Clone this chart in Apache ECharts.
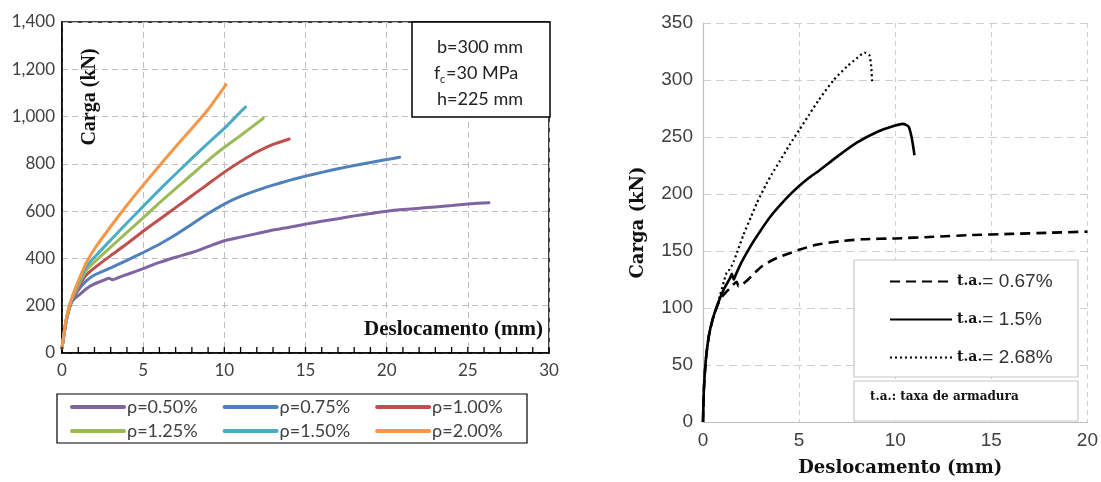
<!DOCTYPE html>
<html lang="pt">
<head>
<meta charset="UTF-8">
<title>Carga x Deslocamento</title>
<script src="https://cdn.jsdelivr.net/npm/echarts@6/dist/echarts.min.js"></script>
<style>
    html, body { margin: 0; padding: 0; background: #fff; }
    #main { width: 1101px; height: 482px; }
</style>
</head>
<body>
<div id="main"></div>
<script>
// ---- left chart: curves for each reinforcement ratio [deslocamento mm, carga kN]
var rhoNames = ['ρ=0.50%', 'ρ=0.75%', 'ρ=1.00%', 'ρ=1.25%', 'ρ=1.50%', 'ρ=2.00%'];
var rho050 = [[0,20],[0.2,110],[0.4,175],[0.6,215],[0.8,232],[1.1,248],[1.5,272],[2,292],[2.5,306],[2.9,316],[3.1,310],[3.5,320],[4,332],[5,357],[6,383],[7,405],[8,425],[9,450],[10,475],[11,490],[12,505],[13,520],[14,532],[15,545],[16,557],[17,568],[18,580],[19,590],[20,600],[21,607],[22,612],[23,618],[24,624],[25,630],[26.3,636]];
var rho075 = [[0,20],[0.2,112],[0.4,178],[0.6,220],[0.8,245],[1.1,275],[1.5,305],[2,330],[3,360],[4,392],[5,425],[6,460],[7,500],[8,545],[9,590],[10,630],[11,662],[12,688],[13,710],[14,730],[15,748],[16,764],[17,779],[18,793],[19,806],[20,818],[20.8,828]];
var rho100 = [[0,20],[0.2,114],[0.4,180],[0.6,222],[0.8,250],[1.1,290],[1.5,330],[2,360],[3,412],[4,462],[5,515],[6,565],[7,615],[8,665],[9,715],[10,765],[11,810],[12,850],[13,882],[14,905]];
var rho125 = [[0,20],[0.2,116],[0.4,182],[0.6,225],[0.8,255],[1.1,300],[1.5,350],[2,385],[3,448],[4,510],[5,572],[6,635],[7,695],[8,755],[9,815],[10,870],[11,920],[12,972],[12.4,993]];
var rho150 = [[0,20],[0.2,118],[0.4,184],[0.6,228],[0.8,262],[1.1,310],[1.5,365],[2,405],[3,478],[4,550],[5,620],[6,690],[7,757],[8,823],[9,888],[10,950],[11,1020],[11.3,1040]];
var rho200 = [[0,20],[0.2,120],[0.4,188],[0.6,232],[0.8,270],[1.1,320],[1.5,382],[2,440],[3,535],[4,625],[5,710],[6,792],[7,872],[8,950],[9,1030],[10.1,1135]];
var leftXTicks = [0, 30, 5];      // min, max, interval
var leftXMinor = 1;               // small inward tick marks every 1 mm
var leftYTicks = [0, 1400, 200];

// ---- right chart: taxa de armadura
var taNames = ['t.a. = 0.67%', 't.a. = 1.5%', 't.a. = 2.68%'];
var taLabels = ['= 0.67%', '= 1.5%', '= 2.68%'];
var ta067 = [[0,0],[0.05,30],[0.15,55],[0.3,75],[0.5,90],[0.7,100],[0.85,106],[1.0,110],[1.2,114],[1.45,118],[1.6,121],[1.75,123],[1.85,119],[2.0,120],[2.35,125],[2.7,131],[3.1,137],[3.5,141],[4,145],[4.5,148],[5,151],[5.9,155.5],[7.1,158.5],[8.3,160.3],[10,161],[12,162.5],[14,164],[16,165],[18,166],[20,167]];
var ta150 = [[0,0],[0.05,30],[0.15,55],[0.3,75],[0.5,90],[0.8,105],[1.1,117],[1.4,126],[1.5,130],[1.6,125],[1.7,129],[2,140],[2.5,155],[3,168],[3.5,180],[4,190],[4.5,199],[5,207],[5.5,214],[6,220],[7,233],[8,245],[9,254],[10,260],[10.4,261.5],[10.7,259],[10.85,250],[10.95,240],[11,234]];
var ta268 = [[0,0],[0.05,30],[0.15,55],[0.3,75],[0.5,90],[0.7,100],[0.9,112],[1.1,124],[1.25,132],[1.4,134],[1.6,141],[1.8,150],[2.1,164],[2.5,180],[2.8,192],[3.3,209],[3.6,218],[4,229],[4.5,243],[5,256],[5.5,269],[6,282],[6.8,300],[7.5,312],[8,319],[8.4,324],[8.65,322],[8.75,312],[8.8,297]];
var rightXTicks = [0, 20, 5];
var rightYTicks = [0, 350, 50];

var rhoData = [rho050, rho075, rho100, rho125, rho150, rho200];
var rhoColors = ['#8064A2', '#4F81BD', '#C0504D', '#9BBB59', '#4BACC6', '#F79646'];
var taData = [ta067, ta150, ta268];
var taDash = [[10, 6], 'solid', [2, 3]];

// plot areas
var leftGrid = { left: 62, top: 22, width: 487, height: 331 };
var rightGrid = { left: 703, top: 23, width: 385, height: 405 };

var myChart = echarts.init(document.getElementById('main'));

var sansL = 'Lato, "Open Sans", sans-serif';
var sansR = '"Liberation Sans Narrow", "Liberation Sans", Arial, sans-serif';
var serifL = '"Liberation Serif", "Times New Roman", serif';
var serifR = '"DejaVu Serif", "Liberation Serif", serif';

var series = [];
rhoData.forEach(function (d, i) {
    series.push({
        name: rhoNames[i], type: 'line', xAxisIndex: 0, yAxisIndex: 0,
        data: d, symbol: 'none', smooth: 0.2,
        lineStyle: { color: rhoColors[i], width: 3, cap: 'round' },
        itemStyle: { color: rhoColors[i] }
    });
});
taData.forEach(function (d, i) {
    series.push({
        name: taNames[i], type: 'line', xAxisIndex: 1, yAxisIndex: 1,
        data: d, symbol: 'none', smooth: 0.2,
        lineStyle: { color: '#000', width: i == 2 ? 2.2 : 2.6, type: taDash[i] },
        itemStyle: { color: '#000' }
    });
});

// legend: only the line, no marker in the middle
var noMarker = { opacity: 0, borderWidth: 0 };

var graphics = [
    // annotation box, left chart
    { type: 'rect', z: 10, shape: { x: 412, y: 22, width: 138, height: 95 },
      style: { fill: '#fff', stroke: '#000', lineWidth: 1.5 } },
    { type: 'text', z: 11, x: 480, y: 47,
      style: { text: 'b=300 mm', font: '18px ' + sansL, fill: '#222', align: 'center', verticalAlign: 'middle' } },
    { type: 'text', z: 11, x: 434, y: 73,
      style: { text: 'f', font: '18px ' + sansL, fill: '#222', verticalAlign: 'middle' } },
    { type: 'text', z: 11, x: 440, y: 79,
      style: { text: 'c', font: '11px ' + sansL, fill: '#222', verticalAlign: 'middle' } },
    { type: 'text', z: 11, x: 446, y: 73,
      style: { text: '=30 MPa', font: '18px ' + sansL, fill: '#222', verticalAlign: 'middle' } },
    { type: 'text', z: 11, x: 480, y: 99,
      style: { text: 'h=225 mm', font: '18px ' + sansL, fill: '#222', align: 'center', verticalAlign: 'middle' } },
    // axis names inside left plot
    { type: 'text', z: 11, x: 90, y: 97, rotation: Math.PI / 2,
      style: { text: 'Carga (kN)', font: 'bold 20px ' + serifL, fill: '#111', align: 'center', verticalAlign: 'middle' } },
    { type: 'text', z: 11, x: 543, y: 330,
      style: { text: 'Deslocamento (mm)', font: 'bold 21px ' + serifL, fill: '#111', align: 'right', verticalAlign: 'middle' } },
    // left legend frame
    { type: 'rect', z: 10, shape: { x: 57, y: 394, width: 470, height: 49 },
      style: { fill: 'none', stroke: '#000', lineWidth: 1.2 } },
    // right legend frames
    { type: 'rect', z: 10, shape: { x: 854, y: 260, width: 224, height: 117 },
      style: { fill: '#fff', stroke: '#c8c8c8', lineWidth: 1.2 } },
    { type: 'rect', z: 10, shape: { x: 854, y: 381, width: 224, height: 40 },
      style: { fill: '#fff', stroke: '#c8c8c8', lineWidth: 1.2 } },
    { type: 'text', z: 11, x: 870, y: 397,
      style: { text: 't.a.: taxa de armadura', font: 'bold 12px ' + serifR, fill: '#111', verticalAlign: 'middle' } }
];

// small inward ticks along the bottom of the left plot, one per mm
var nTicks = (leftXTicks[1] - leftXTicks[0]) / leftXMinor;
var yBase = leftGrid.top + leftGrid.height;
for (var k = 0; k <= nTicks; k++) {
    var px = leftGrid.left + k / nTicks * leftGrid.width;
    graphics.push({
        type: 'line', id: 'tick' + k, z: 100, silent: true,
        shape: { x1: px, y1: yBase, x2: px, y2: yBase - 6 },
        style: { stroke: '#000', lineWidth: 1.3 }
    });
}

myChart.setOption({
    animation: false,
    grid: [
        { left: leftGrid.left, top: leftGrid.top, width: leftGrid.width, height: leftGrid.height,
          show: true, borderColor: '#000', borderWidth: 1.5 },
        { left: rightGrid.left, top: rightGrid.top, width: rightGrid.width, height: rightGrid.height }
    ],
    xAxis: [
        {
            gridIndex: 0, type: 'value', min: leftXTicks[0], max: leftXTicks[1], interval: leftXTicks[2],
            axisLine: { lineStyle: { color: '#000', width: 1.5 } },
            axisTick: { show: false },
            axisLabel: { fontFamily: sansL, fontSize: 17, color: '#404040', margin: 9 },
            splitLine: { lineStyle: { color: '#bfbfbf', type: [6, 4] } }
        },
        {
            gridIndex: 1, type: 'value', min: rightXTicks[0], max: rightXTicks[1], interval: rightXTicks[2],
            name: 'Deslocamento (mm)', nameLocation: 'middle', nameGap: 37,
            nameTextStyle: { fontFamily: serifR, fontWeight: 'bold', fontSize: 18, color: '#111', padding: [0, 0, 0, 10] },
            axisLine: { lineStyle: { color: '#bdbdbd', width: 1.2 } },
            axisTick: { show: false },
            axisLabel: { fontFamily: sansR, fontSize: 19, color: '#404040', margin: 9 },
            splitLine: { lineStyle: { color: '#cfcfcf', type: [5, 4] } }
        }
    ],
    yAxis: [
        {
            gridIndex: 0, type: 'value', min: leftYTicks[0], max: leftYTicks[1], interval: leftYTicks[2],
            axisLine: { show: true, lineStyle: { color: '#000', width: 1.5 } },
            axisTick: { show: false },
            axisLabel: {
                fontFamily: sansL, fontSize: 17, color: '#404040', margin: 7,
                formatter: function (v) { return v.toLocaleString('en-US'); }
            },
            splitLine: { lineStyle: { color: '#bfbfbf', type: [6, 4] } }
        },
        {
            gridIndex: 1, type: 'value', min: rightYTicks[0], max: rightYTicks[1], interval: rightYTicks[2],
            name: 'Carga (kN)', nameLocation: 'middle', nameGap: 56, nameRotate: 90,
            nameTextStyle: { fontFamily: serifR, fontWeight: 'bold', fontSize: 18, color: '#111' },
            axisLine: { show: true, lineStyle: { color: '#bdbdbd', width: 1.2 } },
            axisTick: { show: false },
            axisLabel: { fontFamily: sansR, fontSize: 19, color: '#404040', margin: 10 },
            splitLine: { lineStyle: { color: '#cfcfcf', type: [8, 5] } }
        }
    ],
    legend: [
        {
            data: rhoNames.slice(0, 3), left: 70, top: 398, padding: 0,
            itemWidth: 52, itemHeight: 10, itemGap: 25, itemStyle: noMarker,
            lineStyle: { width: 4 },
            textStyle: { fontFamily: sansL, fontSize: 18, color: '#404040', padding: [0, 0, 0, -2] }
        },
        {
            data: rhoNames.slice(3), left: 70, top: 422, padding: 0,
            itemWidth: 52, itemHeight: 10, itemGap: 25, itemStyle: noMarker,
            lineStyle: { width: 4 },
            textStyle: { fontFamily: sansL, fontSize: 18, color: '#404040', padding: [0, 0, 0, -2] }
        },
        {
            data: taNames, orient: 'vertical', left: 889, top: 272, padding: 0,
            itemWidth: 62, itemHeight: 10, itemGap: 19, z: 20, itemStyle: noMarker,
            formatter: function (name) {
                return '{a|t.a.}{b|' + taLabels[taNames.indexOf(name)] + '}';
            },
            textStyle: {
                rich: {
                    a: { fontFamily: serifR, fontWeight: 'bold', fontSize: 14, color: '#111' },
                    b: { fontFamily: sansR, fontSize: 19, color: '#333', lineHeight: 20 }
                }
            }
        }
    ],
    graphic: graphics,
    series: series
});
</script>
</body>
</html>
